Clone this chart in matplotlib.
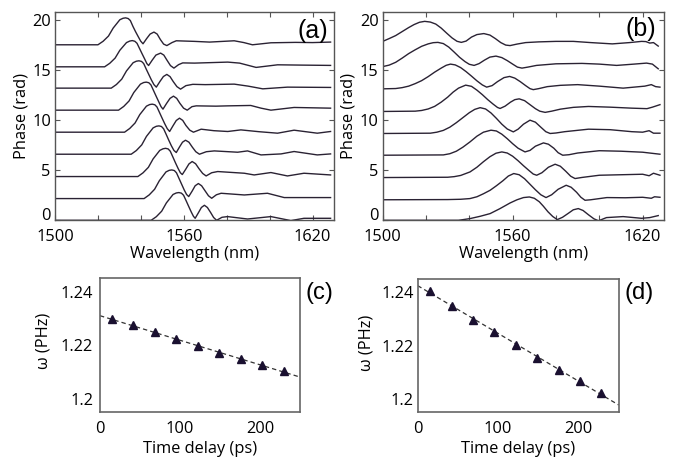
import numpy as np
import matplotlib.pyplot as plt

# ---- data: (wavelength nm, phase rad) per trace, bottom to top ----
a0 = [(1500, 0.0), (1544.8, 0.0), (1547.2, 0.36), (1549.7, 0.91), (1551.9, 1.74), (1555.0, 2.58),
      (1556.5, 2.73), (1557.7, 2.77), (1558.9, 2.71), (1559.9, 2.5), (1561.1, 1.95), (1562.3, 1.38),
      (1563.5, 0.82), (1564.5, 0.4), (1565.3, 0.2), (1566.8, 0.75), (1568.2, 1.28), (1569.6, 1.5),
      (1571.0, 1.28), (1572.5, 0.78), (1573.9, 0.28), (1575.3, 0.0), (1577.8, 0.3), (1580.4, 0.37),
      (1589.7, 0.13), (1600.6, 0.37), (1609.9, -0.03), (1616, 0.2), (1628.4, 0.2)]
a1 = [(1500, 2.17), (1541.5, 2.17), (1543.9, 2.54), (1546.4, 3.1), (1548.6, 3.95), (1551.7, 4.83),
      (1553.2, 4.99), (1554.4, 5.03), (1555.6, 4.97), (1556.6, 4.74), (1557.8, 4.17), (1559.0, 3.6),
      (1560.2, 3.03), (1561.3, 2.58), (1562.3, 2.37), (1563.9, 2.92), (1565.3, 3.45), (1566.8, 3.67),
      (1568.3, 3.45), (1569.9, 2.95), (1571.5, 2.45), (1573.0, 2.2), (1575.2, 2.55), (1577.4, 2.7),
      (1588.2, 2.53), (1599.0, 2.7), (1606.8, 2.27), (1628.4, 2.27)]
a2 = [(1500, 4.37), (1538.6, 4.37), (1541.0, 4.74), (1543.5, 5.29), (1545.7, 6.13), (1548.8, 6.98),
      (1550.3, 7.14), (1551.5, 7.19), (1552.7, 7.13), (1553.7, 6.9), (1554.9, 6.33), (1556.1, 5.75),
      (1557.3, 5.2), (1558.4, 4.75), (1559.3, 4.57), (1560.9, 5.1), (1562.4, 5.63), (1563.9, 5.87),
      (1565.5, 5.65), (1567.1, 5.15), (1568.8, 4.68), (1570.4, 4.43), (1573, 4.75), (1575.8, 4.87),
      (1588.2, 4.7), (1592.8, 4.53), (1600.6, 4.77), (1608.3, 4.43), (1616, 4.7), (1628.4, 4.53)]
a3 = [(1500, 6.6), (1535.5, 6.6), (1537.9, 6.97), (1540.4, 7.53), (1542.6, 8.38), (1545.7, 9.23),
      (1547.2, 9.39), (1548.4, 9.43), (1549.6, 9.37), (1550.6, 9.14), (1551.8, 8.58), (1553.0, 8.0),
      (1554.2, 7.45), (1555.4, 6.98), (1556.5, 6.77), (1558.0, 7.32), (1559.4, 7.8), (1560.8, 8.0),
      (1562.4, 7.8), (1564.0, 7.3), (1565.6, 6.85), (1567.3, 6.6), (1570.5, 6.85), (1574.2, 6.93),
      (1585.1, 6.8), (1589.7, 6.93), (1596.0, 6.53), (1605.3, 6.63), (1611.4, 6.87), (1622.2, 6.53),
      (1628.4, 6.63)]
a4 = [(1500, 8.8), (1532.4, 8.8), (1534.8, 9.17), (1537.3, 9.72), (1539.5, 10.56), (1542.6, 11.4),
      (1544.1, 11.56), (1545.3, 11.6), (1546.5, 11.54), (1547.5, 11.32), (1548.7, 10.76), (1549.9, 10.2),
      (1551.1, 9.65), (1552.3, 9.15), (1553.4, 8.87), (1555.0, 9.45), (1556.5, 9.97), (1558.0, 10.2),
      (1559.5, 9.98), (1561.0, 9.47), (1562.8, 9.0), (1564.5, 8.8), (1568.1, 9.1), (1574, 8.95),
      (1580.5, 8.87), (1586.6, 9.03), (1595, 8.85), (1603.7, 8.7), (1611.4, 9.0), (1622.2, 8.7),
      (1628.4, 8.87)]
a5 = [(1500, 11.0), (1529.6, 11.0), (1532.0, 11.37), (1534.5, 11.92), (1536.7, 12.76), (1539.8, 13.6),
      (1541.3, 13.76), (1542.5, 13.8), (1543.7, 13.74), (1544.7, 13.52), (1545.9, 12.96), (1547.1, 12.4),
      (1548.3, 11.85), (1549.4, 11.35), (1550.3, 11.1), (1552.0, 11.68), (1553.6, 12.18), (1555.2, 12.4),
      (1556.7, 12.18), (1558.2, 11.68), (1559.9, 11.2), (1561.6, 11.0), (1563.8, 11.35), (1565.8, 11.43),
      (1575, 11.4), (1580.5, 11.43), (1591.2, 11.47), (1596, 11.2), (1600.6, 11.0), (1611.4, 11.27),
      (1628.4, 11.2)]
a6 = [(1500, 13.2), (1526.2, 13.2), (1528.6, 13.56), (1531.1, 14.1), (1533.3, 14.92), (1536.4, 15.74),
      (1537.9, 15.89), (1539.1, 15.93), (1540.3, 15.87), (1541.3, 15.66), (1542.5, 15.1), (1543.7, 14.56),
      (1544.9, 14.02), (1546.1, 13.55), (1547.2, 13.3), (1548.9, 13.87), (1550.5, 14.36), (1552.1, 14.57),
      (1553.6, 14.35), (1555.1, 13.85), (1556.8, 13.35), (1558.5, 13.1), (1561, 13.45), (1564.2, 13.58),
      (1570, 13.55), (1583.5, 13.6), (1590, 13.4), (1596.8, 13.13), (1608.3, 13.3), (1628.4, 13.27)]
a7 = [(1500, 15.33), (1523.1, 15.33), (1525.5, 15.68), (1528.0, 16.2), (1530.2, 16.98), (1533.3, 17.75),
      (1534.8, 17.9), (1536.0, 17.95), (1537.2, 17.88), (1538.2, 17.68), (1539.4, 17.15), (1540.6, 16.62),
      (1541.8, 16.1), (1542.8, 15.65), (1543.6, 15.46), (1545.3, 16.0), (1547.0, 16.5), (1549.2, 16.7),
      (1550.7, 16.5), (1552.2, 15.98), (1553.8, 15.45), (1555.4, 15.2), (1557.6, 15.55), (1559.5, 15.72),
      (1565, 15.7), (1580.5, 15.8), (1586, 15.7), (1593.7, 15.27), (1603.7, 15.53), (1615, 15.5),
      (1628.4, 15.47)]
a8 = [(1500, 17.53), (1520.0, 17.53), (1522.4, 17.88), (1524.9, 18.4), (1527.1, 19.2), (1530.2, 20.03),
      (1531.7, 20.18), (1532.9, 20.22), (1534.1, 20.15), (1535.1, 19.95), (1536.3, 19.37), (1537.5, 18.85),
      (1538.7, 18.37), (1539.9, 17.9), (1541.0, 17.63), (1542.7, 18.15), (1544.3, 18.6), (1546.1, 18.8),
      (1547.6, 18.6), (1549.1, 18.05), (1550.6, 17.6), (1552.1, 17.45), (1554.5, 17.75), (1556.5, 17.93),
      (1565, 17.87), (1572, 17.8), (1583.5, 17.93), (1588, 17.75), (1592, 17.53), (1600.6, 17.73),
      (1612, 17.77), (1620, 17.75), (1628.4, 17.8)]

b0 = [(1500, 0.0), (1535, 0.0), (1540.3, 0.17), (1545, 0.4), (1549.6, 0.67), (1554, 1.15), (1558.8, 1.73),
      (1562, 2.05), (1565, 2.27), (1567.7, 2.33), (1570, 2.2), (1572.3, 1.85), (1574.2, 1.4), (1576.3, 0.85),
      (1578.5, 0.38), (1580.6, 0.07), (1583, 0.3), (1585.7, 0.7), (1588, 1.05), (1590.3, 1.17), (1592.5, 0.98),
      (1595, 0.55), (1597.5, 0.15), (1599.6, -0.05), (1603.3, 0.27), (1611, 0.37), (1619.5, 0.2),
      (1623.3, 0.27), (1627.2, 0.47)]
b1 = [(1500, 2.05), (1530, 2.07), (1536, 2.1), (1540.3, 2.17), (1543.5, 2.35), (1546.5, 2.65), (1549.6, 3.0),
      (1552.5, 3.45), (1555.5, 3.95), (1558, 4.42), (1560.5, 4.67), (1563, 4.55), (1565.5, 4.15), (1568, 3.6),
      (1570.5, 3.05), (1573, 2.55), (1575.4, 2.27), (1578, 2.55), (1581, 3.1), (1584.7, 3.5), (1587, 3.3),
      (1589.5, 2.8), (1591.5, 2.3), (1593.4, 2.0), (1596, 2.05), (1603.5, 2.27), (1612, 2.25), (1620, 2.3),
      (1624, 2.2), (1625.5, 2.35), (1628, 2.3)]
b2 = [(1500, 4.27), (1530, 4.3), (1533, 4.36), (1536, 4.48), (1540.3, 4.83), (1543.5, 5.3), (1546.5, 5.85),
      (1549.5, 6.35), (1552.3, 6.7), (1555, 6.83), (1557.5, 6.72), (1560, 6.4), (1562.5, 5.95), (1565, 5.45),
      (1567.5, 4.98), (1569.5, 4.62), (1571.1, 4.5), (1573.5, 4.75), (1576.5, 5.3), (1579.6, 5.6), (1582, 5.4),
      (1584.5, 4.9), (1586.8, 4.4), (1588.8, 4.17), (1592, 4.28), (1600, 4.5), (1610, 4.55), (1620, 4.6),
      (1623, 4.45), (1625, 4.7), (1628, 4.5)]
b3 = [(1500, 6.5), (1528, 6.53), (1531, 6.65), (1534, 6.9), (1537, 7.3), (1540.3, 7.83), (1543.5, 8.4),
      (1546.5, 8.8), (1550, 9.0), (1552.5, 8.92), (1555, 8.6), (1557.5, 8.15), (1560, 7.65), (1562.5, 7.2),
      (1565.7, 6.83), (1568, 6.98), (1570.5, 7.4), (1574.2, 7.73), (1576.5, 7.6), (1579, 7.2), (1581, 6.75),
      (1583.1, 6.5), (1586, 6.55), (1590, 6.72), (1600, 6.95), (1610, 6.9), (1620, 6.8), (1628, 6.6)]
b4 = [(1500, 8.67), (1522, 8.7), (1525, 8.8), (1528, 8.98), (1531, 9.3), (1534, 9.75), (1537, 10.25),
      (1540, 10.75), (1542.5, 11.08), (1545, 11.25), (1547.5, 11.12), (1550, 10.72), (1552.5, 10.18),
      (1555, 9.6), (1557.5, 9.12), (1560.3, 8.83), (1562.5, 9.1), (1565, 9.6), (1568, 10.0), (1570.5, 9.8),
      (1573, 9.3), (1575.3, 8.85), (1577.3, 8.67), (1580, 8.72), (1584, 8.85), (1595, 9.1), (1605, 9.05),
      (1615, 8.85), (1620, 8.8), (1623, 8.95), (1625, 8.7), (1628, 8.7)]
b5 = [(1500, 10.87), (1515, 10.9), (1518, 10.97), (1521, 11.12), (1524, 11.38), (1527, 11.8), (1530, 12.3),
      (1532.5, 12.8), (1535, 13.2), (1538.3, 13.5), (1541, 13.38), (1543.5, 13.0), (1546, 12.55), (1548.5, 12.05),
      (1551, 11.6), (1553, 11.27), (1554.2, 11.17), (1556.5, 11.4), (1559, 11.8), (1561, 12.05), (1563, 12.13),
      (1565.5, 11.95), (1568, 11.55), (1570.5, 11.15), (1572.5, 10.9), (1575, 10.78), (1578, 10.9),
      (1582, 11.1), (1588, 11.28), (1595, 11.37), (1605, 11.3), (1615, 11.2), (1622, 11.15), (1624.5, 11.3),
      (1628, 11.55)]
b6 = [(1500, 13.13), (1506, 13.16), (1509, 13.25), (1512, 13.4), (1515, 13.65), (1518, 13.95), (1521, 14.35),
      (1524, 14.8), (1527, 15.2), (1529.3, 15.48), (1531.3, 15.6), (1533.5, 15.52), (1536, 15.25), (1538.5, 14.85),
      (1541, 14.4), (1543.5, 13.93), (1546, 13.52), (1548, 13.3), (1550.5, 13.45), (1553, 13.85), (1556, 14.25),
      (1558.6, 14.37), (1561, 14.2), (1563.5, 13.85), (1566, 13.45), (1568, 13.15), (1569.5, 13.05),
      (1572, 13.15), (1576, 13.35), (1582, 13.48), (1590, 13.55), (1600, 13.4), (1611, 13.2), (1621, 13.4),
      (1624, 13.55), (1626, 13.35), (1628, 13.3)]
b7 = [(1500, 15.35), (1503, 15.5), (1506, 15.78), (1509, 16.2), (1512, 16.65), (1515, 17.03), (1518, 17.38),
      (1521, 17.62), (1523.3, 17.74), (1525.5, 17.77), (1528, 17.65), (1530.5, 17.3), (1533, 16.8),
      (1535.5, 16.28), (1538, 15.85), (1540, 15.58), (1542.2, 15.47), (1544.5, 15.65), (1547, 16.0),
      (1549.5, 16.3), (1552.3, 16.4), (1555, 16.25), (1557.5, 15.95), (1560, 15.6), (1562.2, 15.3),
      (1564.3, 15.2), (1567, 15.3), (1571, 15.47), (1580, 15.63), (1592, 15.67), (1600, 15.6), (1608, 15.47),
      (1616, 15.6), (1621.8, 15.7), (1624.5, 15.6), (1627.2, 15.13)]
b8 = [(1500, 17.87), (1503, 18.15), (1506, 18.45), (1509, 18.85), (1512, 19.25), (1514.5, 19.55),
      (1517, 19.78), (1519.4, 19.87), (1522, 19.8), (1524.5, 19.6), (1527, 19.2), (1529.5, 18.7),
      (1532, 18.22), (1534.3, 17.88), (1536.3, 17.77), (1538.5, 17.9), (1541, 18.3), (1543.5, 18.55),
      (1546.7, 18.65), (1549.5, 18.5), (1552, 18.15), (1554.5, 17.75), (1556.8, 17.5), (1558.8, 17.45),
      (1562, 17.6), (1566, 17.75), (1572, 17.82), (1580, 17.87), (1588, 17.87), (1596, 17.75), (1606, 17.62),
      (1614, 17.75), (1619.5, 17.87), (1621.5, 17.85), (1623.3, 17.7), (1625, 17.75), (1627.2, 17.4)]

traces_a = [a0, a1, a2, a3, a4, a5, a6, a7, a8]
traces_b = [b0, b1, b2, b3, b4, b5, b6, b7, b8]

# time delay (ps) vs frequency (PHz)
c_delay = [14.6, 41.7, 68.7, 95.0, 122.0, 148.7, 175.8, 202.9, 229.6]
c_omega = [1.2298, 1.2274, 1.2248, 1.2222, 1.2196, 1.2173, 1.2148, 1.2125, 1.2103]
d_delay = [15.7, 42.6, 68.2, 95.5, 122.0, 148.3, 175.6, 202.0, 228.0]
d_omega = [1.2406, 1.2350, 1.2296, 1.2253, 1.2203, 1.2153, 1.2110, 1.2066, 1.2023]

plt.rcParams['font.family'] = ['Open Sans', 'DejaVu Sans']
fs = 11.8
line_col = '#2a2233'
spine_col = '#555555'

fig = plt.figure(figsize=(6.76, 4.58), dpi=100)

def phase_panel(rect, traces, tag, tag_xy):
    ax = fig.add_axes(rect)
    for tr in traces:
        wl, ph = np.array(tr).T
        ax.plot(wl, ph, color=line_col, lw=1.0)
    ax.set_xlim(1500, 1630)
    ax.set_ylim(0, 20.8)
    ax.set_xticks([1500, 1560, 1620])
    ax.set_xticks([1520, 1540, 1580, 1600], minor=True)
    ax.set_yticks([0, 5, 10, 15, 20])
    ax.tick_params(which='both', direction='in', top=True, right=True, length=3.5,
                   width=0.8, color=spine_col, labelsize=fs, pad=3)
    ax.tick_params(axis='x', which='both', pad=6)
    # the "0" label sits on the bottom axis line in the original
    ax.get_yticklabels()[0].set_va('baseline')
    for s in ax.spines.values():
        s.set_color(spine_col)
        s.set_linewidth(1.0)
    ax.set_xlabel('Wavelength (nm)', fontsize=fs, labelpad=1)
    ax.set_ylabel('Phase (rad)', fontsize=fs, labelpad=2)
    ax.text(tag_xy[0], tag_xy[1], tag, transform=ax.transAxes, fontsize=18,
            family='Liberation Sans', ha='center', va='center')
    return ax

phase_panel([0.0814, 0.519, 0.4127, 0.4547], traces_a, '(a)', (0.925, 0.91))
phase_panel([0.5661, 0.519, 0.4166, 0.4547], traces_b, '(b)', (0.917, 0.92))

def omega_panel(rect, t, w, tag, tag_pos, ypad, ylab_xy):
    ax = fig.add_axes(rect)
    slope, icpt = np.polyfit(t, w, 1)
    tt = np.array([0, 250])
    ax.plot(tt, slope * tt + icpt, ls=(0, (3.5, 2.5)), color='#333333', lw=0.9)
    ax.plot(t, w, ls='none', marker='^', ms=5.5, color='#1a1030')
    ax.set_xlim(0, 250)
    ax.set_ylim(1.195, 1.245)
    ax.set_xticks([0, 100, 200])
    ax.set_yticks([1.2, 1.22, 1.24])
    ax.set_yticklabels(['1.2', '1.22', '1.24'])
    ax.tick_params(length=0, labelsize=fs)
    ax.tick_params(axis='y', pad=ypad)
    ax.tick_params(axis='x', pad=6)
    for s in ax.spines.values():
        s.set_color('#666666')
        s.set_linewidth(1.2)
    ax.set_xlabel('Time delay (ps)', fontsize=fs, labelpad=3)
    ax.set_ylabel('ω (PHz)', fontsize=fs)
    ax.yaxis.set_label_coords(*ylab_xy)
    fig.text(tag_pos[0], tag_pos[1], tag, fontsize=17, family='Liberation Sans',
             ha='center', va='center')
    return ax

omega_panel([0.1479, 0.0998, 0.2959, 0.2926], c_delay, c_omega, '(c)', (0.473, 0.361), 5, (-0.24, 0.53))
omega_panel([0.6179, 0.0998, 0.2973, 0.2910], d_delay, d_omega, '(d)', (0.9457, 0.361), 3, (-0.217, 0.52))

fig.savefig('out.png', dpi=100)
